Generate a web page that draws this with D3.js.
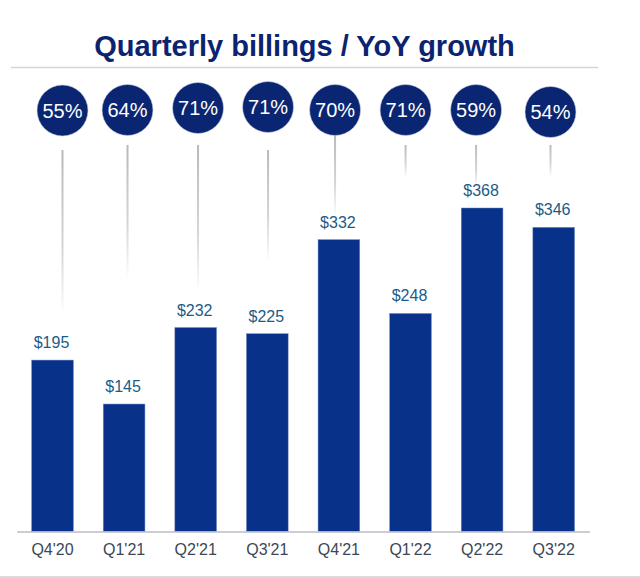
<!DOCTYPE html>
<html>
<head>
<meta charset="utf-8">
<script src="https://cdn.jsdelivr.net/npm/d3@7"></script>
<style>
  html, body { margin: 0; padding: 0; background: #fff; }
  svg { display: block; font-family: "Liberation Sans", Arial, sans-serif; }
</style>
</head>
<body>
<svg id="chart" width="640" height="578"></svg>
<script>
// ---- data ----
const quarters = ["Q4'20", "Q1'21", "Q2'21", "Q3'21", "Q4'21", "Q1'22", "Q2'22", "Q3'22"];
const billings = [195, 145, 232, 225, 332, 248, 368, 346];
const yoyGrowth = [55, 64, 71, 71, 70, 71, 59, 54];
const titleText = "Quarterly billings / YoY growth";

// ---- layout (not data) ----
const bubbleNudgeX = [0, -4.7, -3.9, -3.6, -6.3, -5.5, -4.7, 0];
const bubbleNudgeY = [0.5, 0, -2, -3, 0, 0, 0, 2];
const connectorTop = [150, 145, 145, 150, 135, 145, 145, 145];
const connectorBottom = [317, 280, 293, 263, 217, 177, 187, 177];

const svg = d3.select("#chart");
const W = 640, H = 578;

const x = d3.scaleBand().domain(quarters).range([16.7, 589.5])
  .paddingInner(0.418).paddingOuter(0.209);
const y = d3.scaleLinear().domain([0, 368]).range([531.5, 208]);
const bx = d3.scalePoint().domain(quarters).range([62.5, 550.5]);

// gradient for connectors
const defs = svg.append("defs");
const grad = defs.append("linearGradient").attr("id", "conn")
  .attr("x1", 0).attr("y1", 0).attr("x2", 0).attr("y2", 1);
grad.append("stop").attr("offset", "0%").attr("stop-color", "#b9b9b9");
grad.append("stop").attr("offset", "60%").attr("stop-color", "#d6d6d6");
grad.append("stop").attr("offset", "100%").attr("stop-color", "#ffffff");

// title
svg.append("text")
  .attr("x", 304.5).attr("y", 56)
  .attr("text-anchor", "middle")
  .attr("font-size", 29).attr("font-weight", "bold")
  .attr("fill", "#0b2470")
  .text(titleText);
svg.append("line")
  .attr("x1", 11).attr("x2", 598).attr("y1", 67.5).attr("y2", 67.5)
  .attr("stroke", "#d3d5d8").attr("stroke-width", 1.5);

// connectors
svg.append("g").selectAll("rect").data(quarters).join("rect")
  .attr("x", (d, i) => bx(d) + bubbleNudgeX[i] - 1)
  .attr("y", (d, i) => connectorTop[i])
  .attr("width", 2)
  .attr("height", (d, i) => connectorBottom[i] - connectorTop[i])
  .attr("fill", "url(#conn)");

// bars
svg.append("g").selectAll("rect").data(billings).join("rect")
  .attr("x", (d, i) => x(quarters[i]))
  .attr("y", d => y(d))
  .attr("width", x.bandwidth())
  .attr("height", d => y(0) - y(d))
  .attr("fill", "#083189")
  .attr("stroke", "#6f86bf").attr("stroke-width", 0.5);

// value labels
svg.append("g").selectAll("text").data(billings).join("text")
  .attr("x", (d, i) => x(quarters[i]) + x.bandwidth() / 2 - 1)
  .attr("y", d => y(d) - 12)
  .attr("text-anchor", "middle")
  .attr("font-size", 16)
  .attr("fill", "#1b5c86")
  .text(d => "$" + d);

// x axis
const axis = svg.append("g")
  .attr("transform", `translate(0,${y(0)})`)
  .call(d3.axisBottom(x).tickSize(0).tickPadding(12));
axis.select(".domain").attr("stroke", "#b9bdc7").attr("stroke-width", 1.5);
axis.selectAll(".tick text")
  .attr("font-size", 16)
  .attr("font-family", "'Liberation Sans', Arial, sans-serif")
  .attr("fill", "#3b4757");

// bubbles
const bub = svg.append("g").selectAll("g").data(yoyGrowth).join("g")
  .attr("transform", (d, i) => `translate(${bx(quarters[i]) + bubbleNudgeX[i]},${110 + bubbleNudgeY[i]})`);
bub.append("circle").attr("r", 25.5).attr("fill", "#0a2672")
  .attr("stroke", "#c9d0e2").attr("stroke-width", 0.6);
bub.append("text")
  .attr("text-anchor", "middle").attr("dy", 7)
  .attr("font-size", 20).attr("fill", "#ffffff")
  .text(d => d + "%");

// bottom rule
svg.append("line")
  .attr("x1", 0).attr("x2", W).attr("y1", 577).attr("y2", 577)
  .attr("stroke", "#cfcfcf").attr("stroke-width", 1.5);
</script>
</body>
</html>
